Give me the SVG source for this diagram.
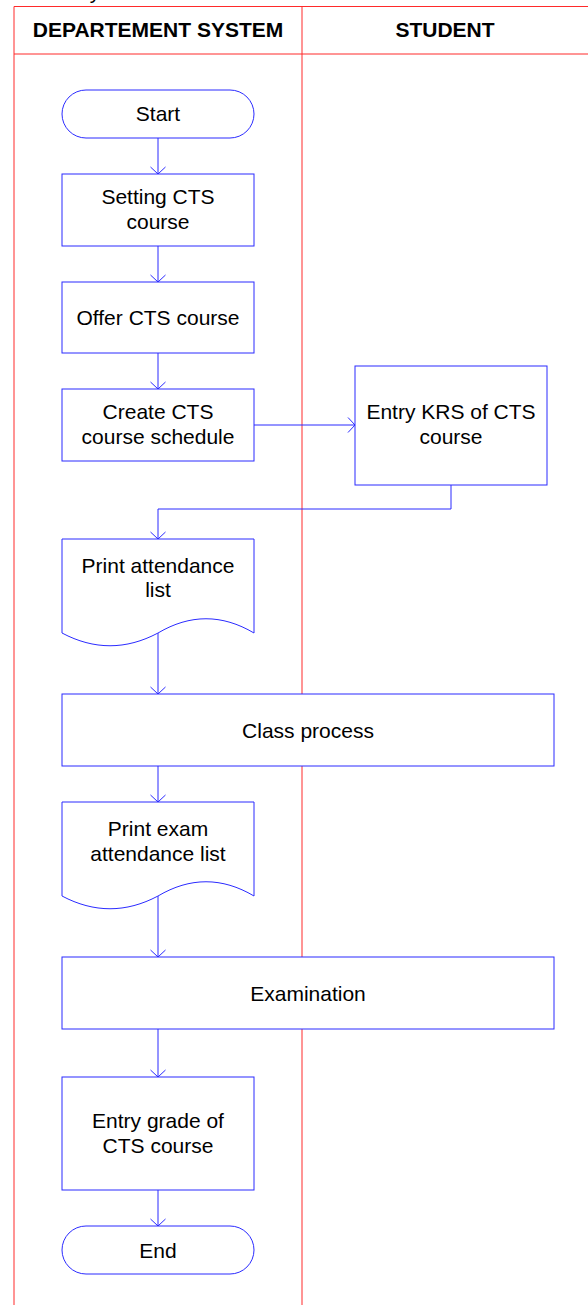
<svg xmlns="http://www.w3.org/2000/svg" width="588" height="1305" viewBox="0 0 588 1305">
<style>
.lane{stroke:#ff2a2a;stroke-width:1;fill:none}
.node{fill:#ffffff;stroke:#2b2bff;stroke-width:1}
.conn{fill:none;stroke:#2b2bff;stroke-width:1}
.t{font-family:"Liberation Sans",Arial,sans-serif;font-size:21px;fill:#000;text-anchor:middle}
.h{font-family:"Liberation Sans",Arial,sans-serif;font-size:21px;font-weight:bold;fill:#000;text-anchor:middle}
</style>
<defs>
<marker id="arr" viewBox="-10 -10 20 20" refX="0" refY="0" markerWidth="20" markerHeight="20" markerUnits="userSpaceOnUse" orient="auto" overflow="visible">
<path d="M-7,-7.5 L0,0 L-7,7.5" fill="none" stroke="#2b2bff" stroke-width="1"/>
</marker>
</defs>
<rect width="588" height="1305" fill="#ffffff"/>
<text class="t" x="95" y="-1.5">y</text>
<g id="lanes">
<path class="lane" d="M14,1305 V6.5 H588"/>
<path class="lane" d="M14,54 H588"/>
<path class="lane" d="M302,6.5 V1305"/>
<text class="h" x="158" y="36.7">DEPARTEMENT SYSTEM</text>
<text class="h" x="445" y="36.7">STUDENT</text>
</g>
<g id="connectors">
<path class="conn" d="M158,138 V174" marker-end="url(#arr)"/>
<path class="conn" d="M158,246 V282" marker-end="url(#arr)"/>
<path class="conn" d="M158,353 V389" marker-end="url(#arr)"/>
<path class="conn" d="M254,425 H355" marker-end="url(#arr)"/>
<path class="conn" d="M451,485 V509 H158 V539" marker-end="url(#arr)"/>
<path class="conn" d="M158,633 V694" marker-end="url(#arr)"/>
<path class="conn" d="M158,766 V802" marker-end="url(#arr)"/>
<path class="conn" d="M158,896 V957" marker-end="url(#arr)"/>
<path class="conn" d="M158,1029 V1077" marker-end="url(#arr)"/>
<path class="conn" d="M158,1190 V1226" marker-end="url(#arr)"/>
</g>
<g id="start">
<rect class="node" x="62" y="90" width="192" height="48" rx="24" ry="24"/>
<text class="t" x="158" y="121">Start</text>
</g>
<g id="setting">
<rect class="node" x="62" y="174" width="192" height="72"/>
<text class="t" x="158" y="204">Setting CTS</text>
<text class="t" x="158" y="229">course</text>
</g>
<g id="offer">
<rect class="node" x="62" y="282" width="192" height="71"/>
<text class="t" x="158" y="324.5">Offer CTS course</text>
</g>
<g id="create">
<rect class="node" x="62" y="389" width="192" height="72"/>
<text class="t" x="158" y="419">Create CTS</text>
<text class="t" x="158" y="444">course schedule</text>
</g>
<g id="entrykrs">
<rect class="node" x="355" y="366" width="192" height="119"/>
<text class="t" x="451" y="419">Entry KRS of CTS</text>
<text class="t" x="451" y="444">course</text>
</g>
<g id="printattendance">
<path class="node" d="M62,539 H254 V633 C222,614 190,614 158,633 C126,650 94,650 62,633 Z"/>
<text class="t" x="158" y="573">Print attendance</text>
<text class="t" x="158" y="597">list</text>
</g>
<g id="classprocess">
<rect class="node" x="62" y="694" width="492" height="72"/>
<text class="t" x="308" y="737.5">Class process</text>
</g>
<g id="printexam">
<path class="node" d="M62,802 H254 V896 C222,877 190,877 158,896 C126,913 94,913 62,896 Z"/>
<text class="t" x="158" y="836">Print exam</text>
<text class="t" x="158" y="861">attendance list</text>
</g>
<g id="examination">
<rect class="node" x="62" y="957" width="492" height="72"/>
<text class="t" x="308" y="1000.5">Examination</text>
</g>
<g id="entrygrade">
<rect class="node" x="62" y="1077" width="192" height="113"/>
<text class="t" x="158" y="1128">Entry grade of</text>
<text class="t" x="158" y="1153">CTS course</text>
</g>
<g id="end">
<rect class="node" x="62" y="1226" width="192" height="48" rx="24" ry="24"/>
<text class="t" x="158" y="1257.5">End</text>
</g>
</svg>
